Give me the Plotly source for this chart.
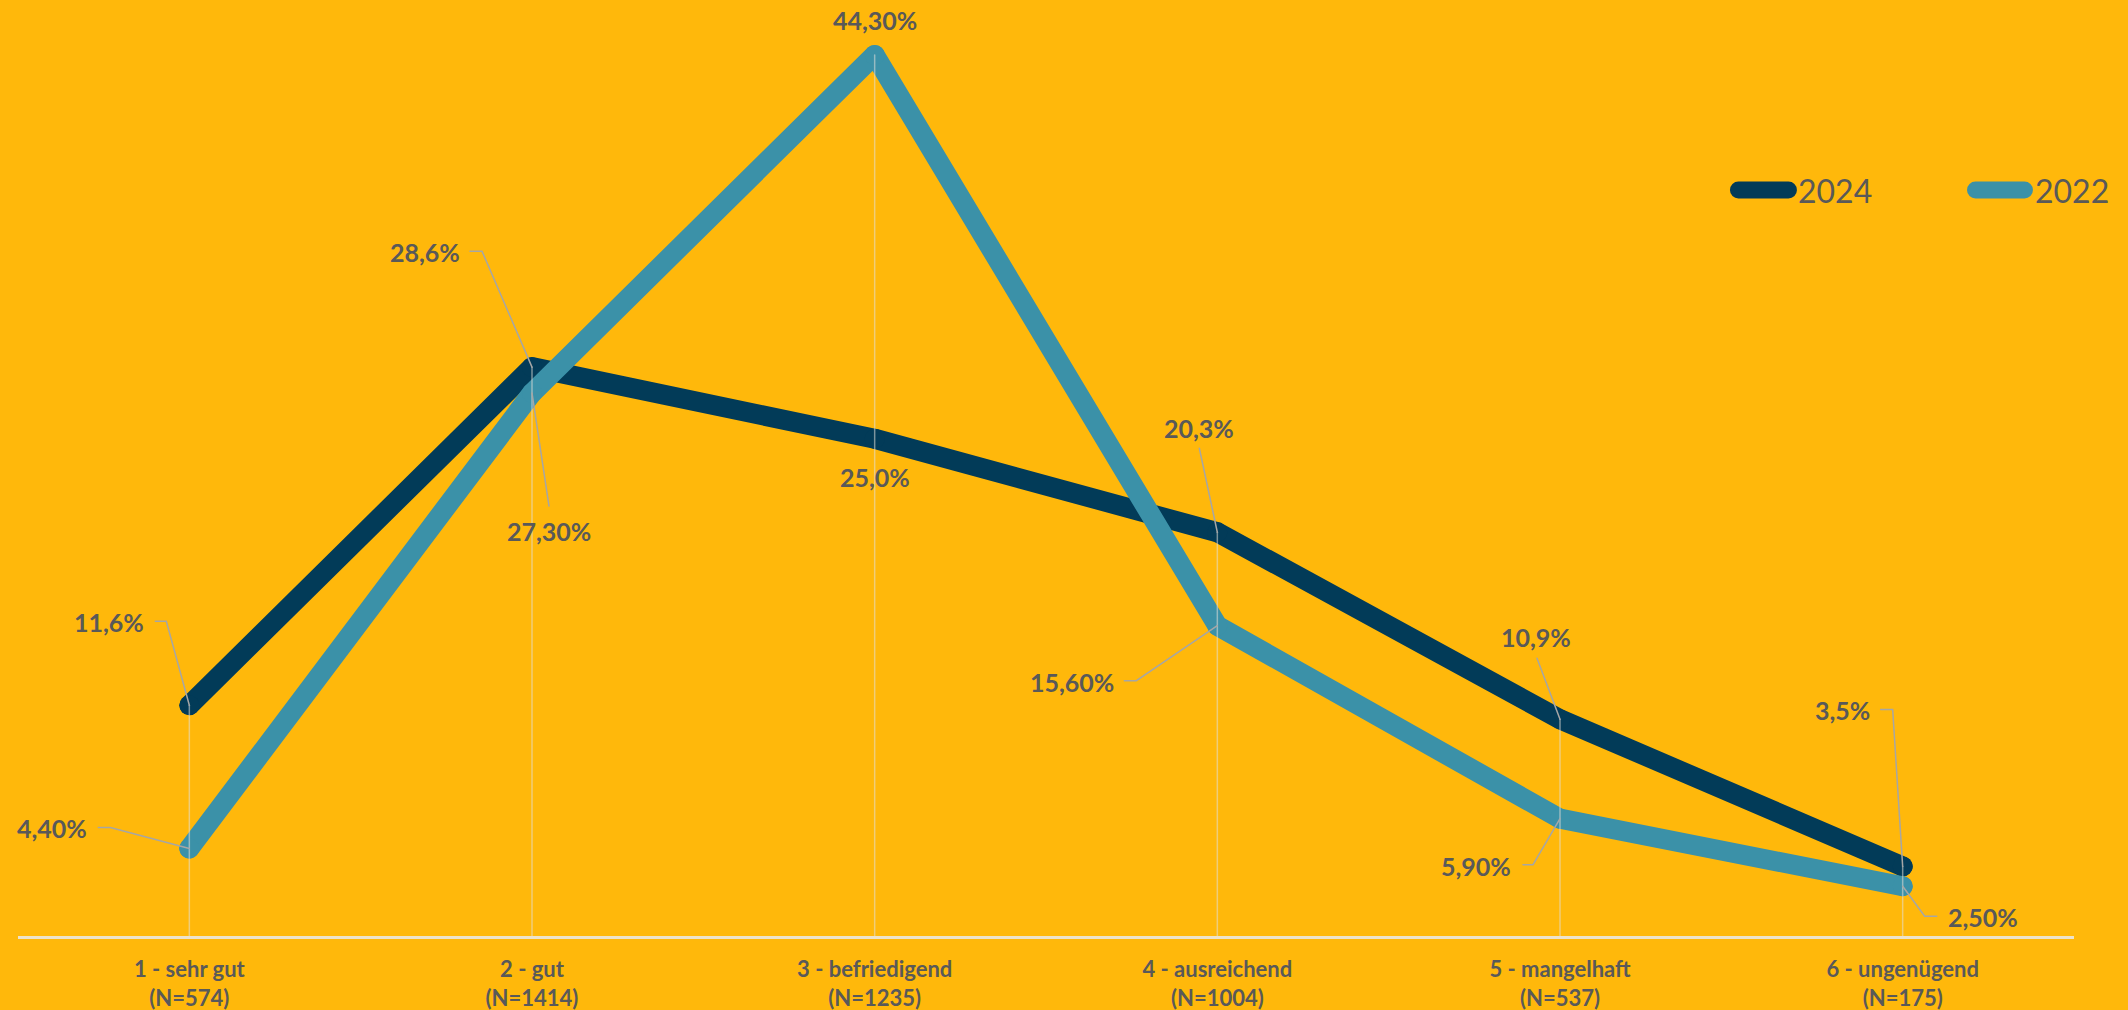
import plotly.graph_objects as go

# Survey data: share of answers per grade (in percent)
grades = ["1 - sehr gut", "2 - gut", "3 - befriedigend", "4 - ausreichend",
          "5 - mangelhaft", "6 - ungenügend"]
counts = [574, 1414, 1235, 1004, 537, 175]
share_2024 = [11.6, 28.6, 25.0, 20.3, 10.9, 3.5]
share_2022 = [4.4, 27.3, 44.3, 15.6, 5.9, 2.5]

tick_text = [f"{g}<br>(N={n})" for g, n in zip(grades, counts)]
x_pos = list(range(len(grades)))

BG = "#FFB80B"
DARK = "#023B58"
TEAL = "#3B91A8"
TEXT = "#595959"
LEADER = "#A6A6A6"
FONT = "Lato"

# Label offsets in pixels relative to each point (x right, y up) and
# the bend points of the leader lines that connect label and point.
label_shift_2024 = [(-80, 83), (-107, 115), (0, -38), (-18, 104), (-24, 82), (-60, 156)]
leader_2024 = [[(-34, 84), (-23, 84)], [(-62, 116), (-50, 116)], None,
               [(-18, 84)], [(-23, 61)], [(-22, 157), (-10, 157)]]
label_shift_2022 = [(-137, 20), (17, -138), (0, 35), (-145, -56), (-84, -47), (80, -31)]
leader_2022 = [[(-91, 21), (-79, 21)], [(17, -113)], None,
               [(-93, -55), (-81, -55)], [(-37, -46), (-27, -46)], [(34, -30), (22, -30)]]


def fmt(v, decimals):
    return f"{v:.{decimals}f}".replace(".", ",") + "%"


fig = go.Figure()
for name, vals, color in (("2024", share_2024, DARK), ("2022", share_2022, TEAL)):
    fig.add_trace(go.Scatter(
        x=x_pos, y=vals, name=name, mode="lines+markers",
        line=dict(color=color, width=20),
        marker=dict(color=color, size=20, line=dict(width=0)),
        hoverinfo="skip", showlegend=False,
    ))

shapes = []
annotations = []

# drop lines from the higher point of each category down to the axis
for i in x_pos:
    shapes.append(dict(type="line", xref="x", yref="y", x0=i, x1=i, y0=0,
                       y1=max(share_2024[i], share_2022[i]),
                       line=dict(color="rgba(225,222,215,0.55)", width=1.5),
                       layer="above"))

for vals, shifts, leaders, dec in ((share_2024, label_shift_2024, leader_2024, 1),
                                   (share_2022, label_shift_2022, leader_2022, 2)):
    for i, v in enumerate(vals):
        dx, dy = shifts[i]
        annotations.append(dict(
            x=i, y=v, xref="x", yref="y", text=fmt(v, dec), showarrow=False,
            xshift=dx, yshift=dy, xanchor="center", yanchor="middle",
            font=dict(family=FONT, size=25, color=TEXT, weight="bold"),
        ))
        if leaders[i]:
            pts = leaders[i] + [(0, 0)]
            path = "M" + " L".join(f"{px},{py}" for px, py in pts)
            shapes.append(dict(type="path", xref="x", yref="y",
                               xsizemode="pixel", ysizemode="pixel",
                               xanchor=i, yanchor=v, path=path,
                               line=dict(color=LEADER, width=1.5), layer="above"))

# legend drawn as thick rounded strokes with their labels
for name, color, lx0, lx1, tx in (("2024", DARK, 0.8368, 0.8611, 0.8648),
                                  ("2022", TEAL, 0.9521, 0.9759, 0.9800)):
    shapes.append(dict(type="line", xref="paper", yref="paper",
                       x0=lx0, x1=lx1, y0=0.797, y1=0.797,
                       line=dict(color=color, width=17), layer="above"))
    annotations.append(dict(x=tx, y=0.797, xref="paper", yref="paper", text=name,
                            showarrow=False, xanchor="left", yanchor="middle",
                            font=dict(family=FONT, size=32, color=TEXT)))

fig.update_layout(
    width=2128, height=1010,
    margin=dict(l=18, r=54, t=0, b=74),
    paper_bgcolor=BG, plot_bgcolor=BG,
    shapes=shapes, annotations=annotations,
    xaxis=dict(range=[-0.5, 5.5], tickvals=x_pos, ticktext=tick_text,
               showgrid=False, zeroline=False, ticks="", ticklabelstandoff=12,
               showline=True, linecolor="#EDE3CC", linewidth=3,
               tickfont=dict(family=FONT, size=22, color=TEXT, weight="bold")),
    yaxis=dict(range=[0, 47.06], visible=False, showgrid=False, zeroline=False),
)

round_js = """
var gd = document.getElementById('{plot_id}');
gd.querySelectorAll('.scatterlayer .js-line').forEach(function(p){
  p.style.strokeLinejoin = 'round'; p.style.strokeLinecap = 'round';
});
gd.querySelectorAll('.shapelayer path').forEach(function(p){
  p.style.strokeLinecap = 'round';
});
"""

fig.write_html("out.html", config={"displayModeBar": False}, post_script=round_js)
